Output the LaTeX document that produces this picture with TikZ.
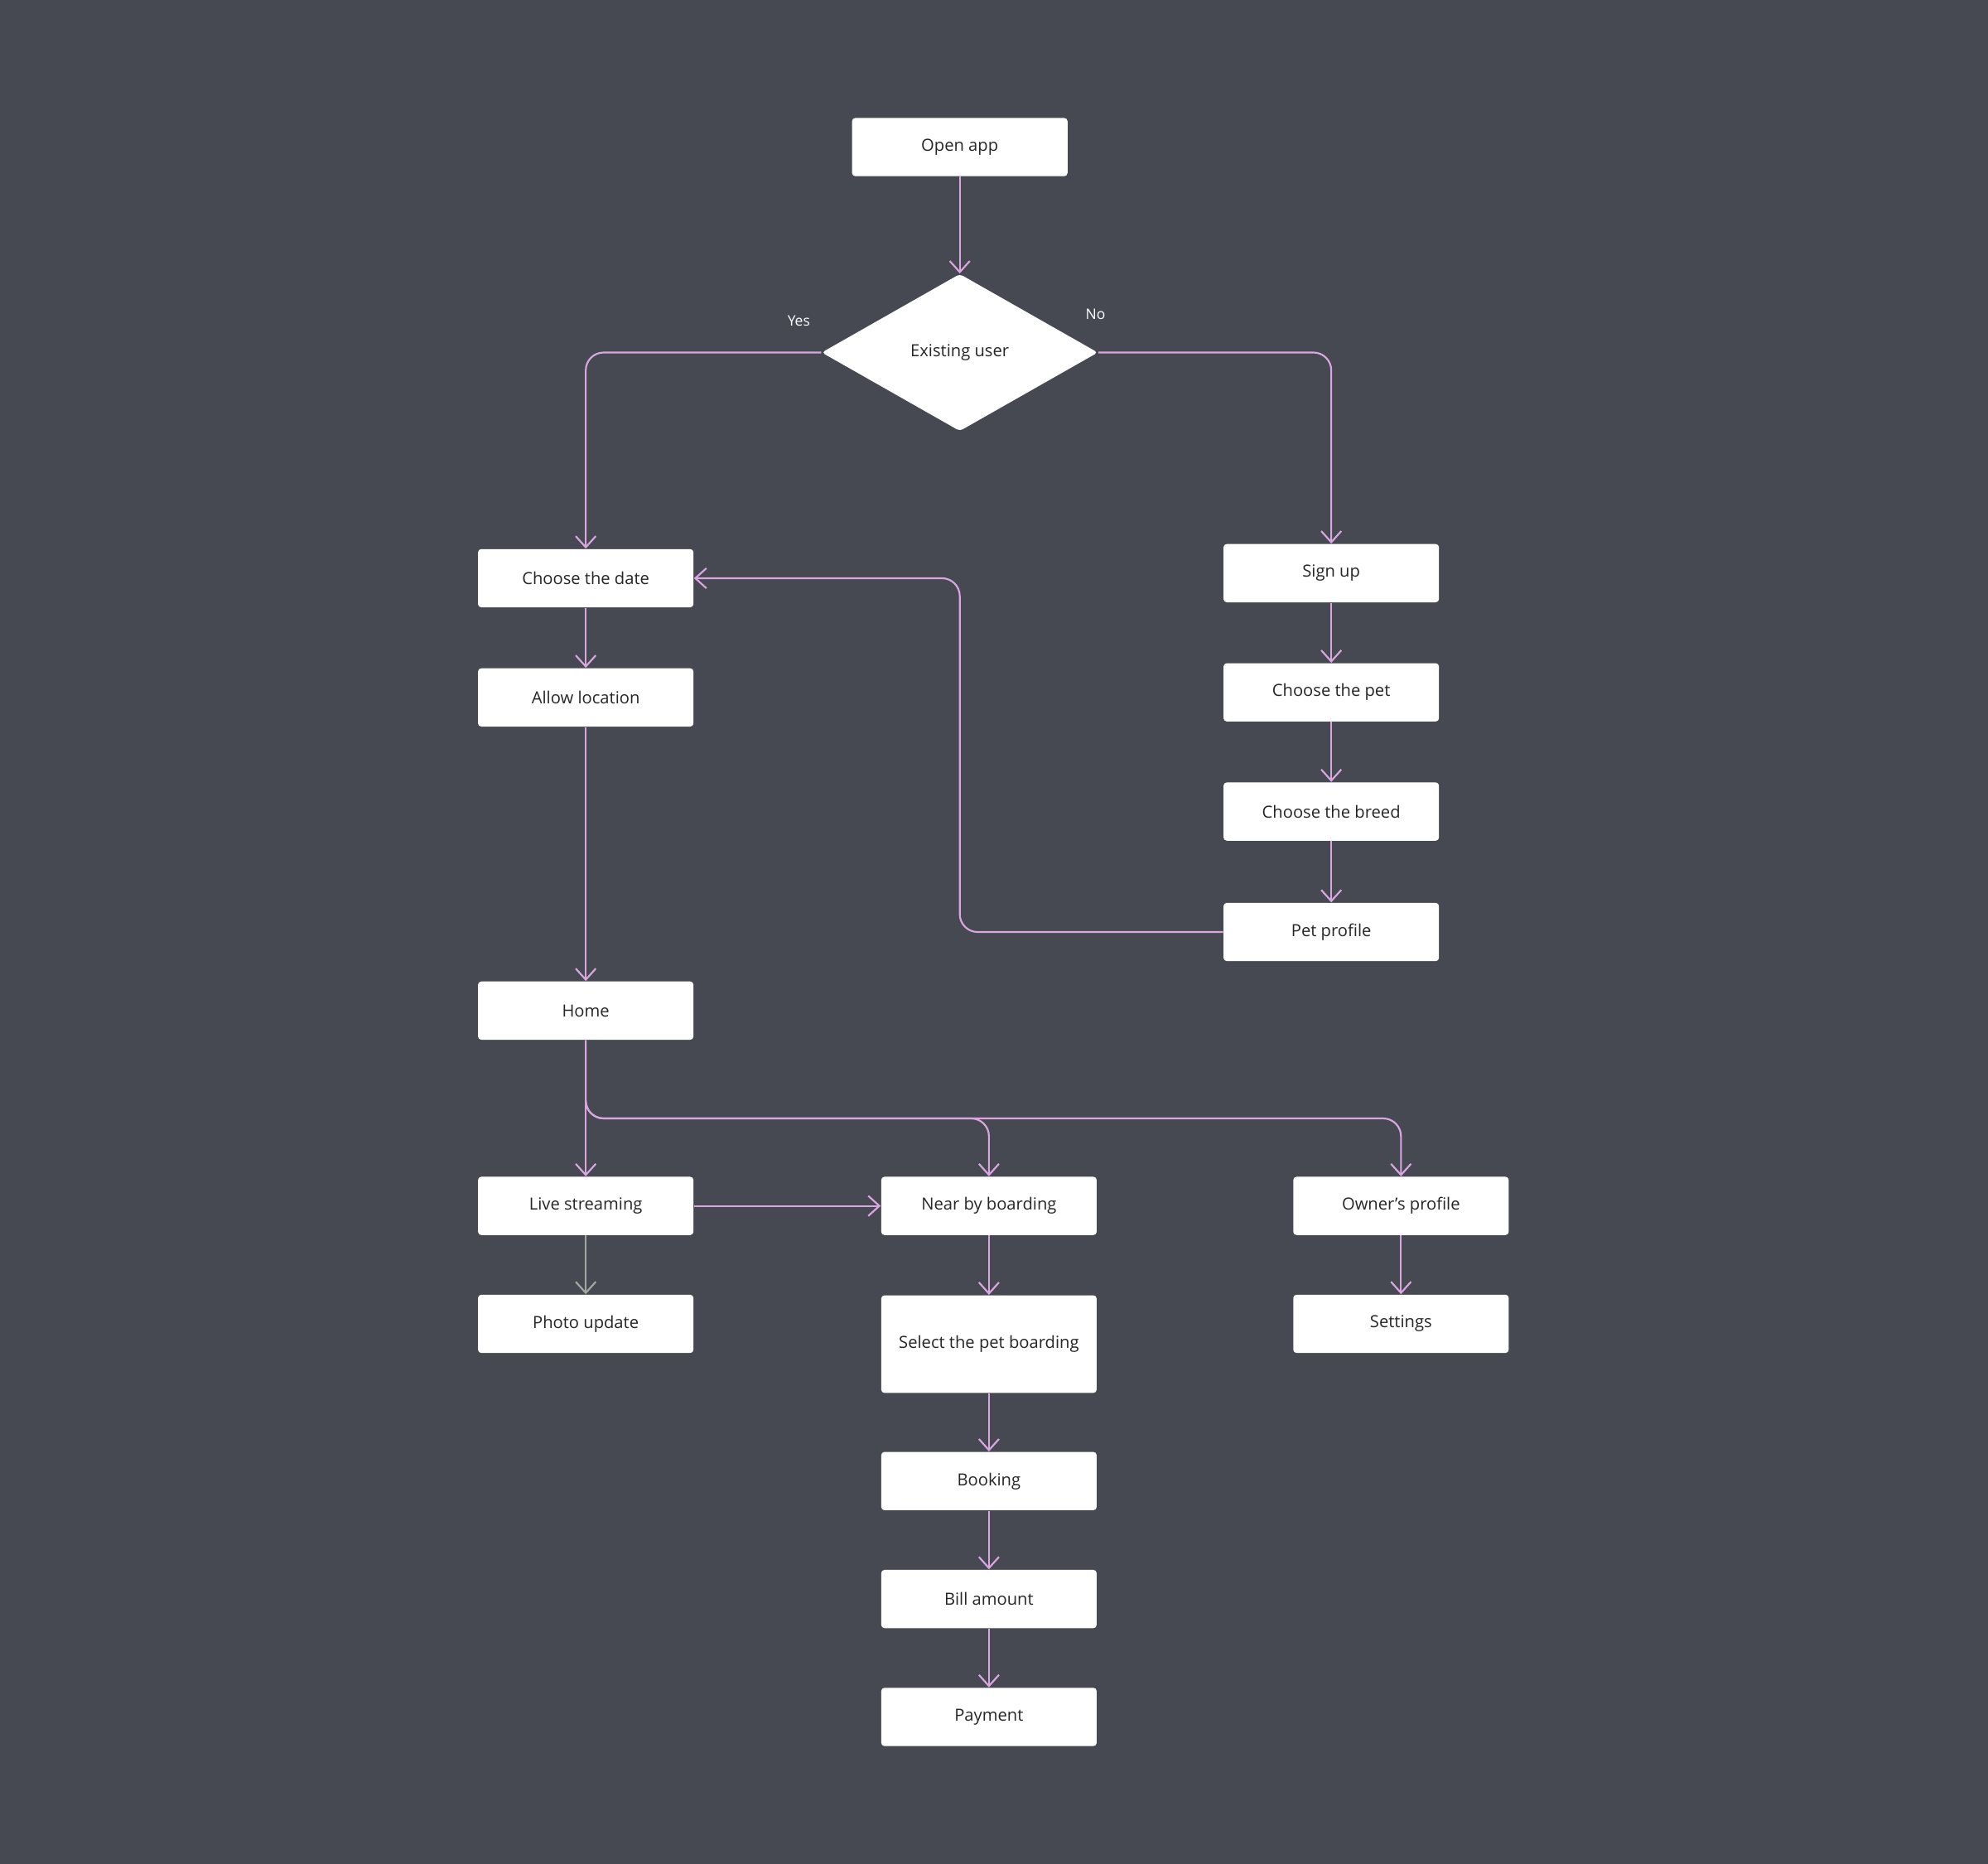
\documentclass[tikz,border=0pt]{standalone}
\usepackage{fontspec}
\setmainfont{Open Sans}
\usetikzlibrary{shapes.geometric}
\usetikzlibrary{positioning}
\usetikzlibrary{arrows.meta}
\definecolor{bgcol}{HTML}{464952}
\definecolor{linkcol}{HTML}{D9A6E0}
\definecolor{greycol}{HTML}{A3A8A0}
\tikzstyle{stepbox} = [rectangle,fill=white,rounded corners=1.5pt,minimum width=3.4cm,minimum height=0.92cm,align=center,font=\fontsize{7.5}{9}\selectfont,text=black!85]
\tikzstyle{decision} = [diamond,fill=white,rounded corners=1.5pt,minimum width=4.36cm,minimum height=2.48cm,inner sep=0pt,aspect=1.76,font=\fontsize{7.5}{9}\selectfont,text=black!85]

\begin{document}
\begin{tikzpicture}[x=0.02cm,y=-0.02cm]
	\fill[bgcol] (0,0) rectangle (1568,1470);
	\useasboundingbox (0,0) rectangle (1568,1470);

	\tikzstyle{link}=[draw=linkcol,line width=0.8pt,-{Straight Barb[length=5pt,width=9pt]},rounded corners=8pt];
	\tikzstyle{tag}=[text=white,font=\fontsize{6.5}{8}\selectfont];

	\node (open) [stepbox] at (757,116) {Open app};
	\node (user) [decision] at (757,278) {Existing user};
	\node (date) [stepbox] at (462,456) {Choose the date};
	\node (loc) [stepbox] at (462,550) {Allow location};
	\node (home) [stepbox] at (462,797) {Home};
	\node (live) [stepbox] at (462,951) {Live streaming};
	\node (photo) [stepbox] at (462,1044) {Photo update};
	\node (sign) [stepbox] at (1050,452) {Sign up};
	\node (pet) [stepbox] at (1050,546) {Choose the pet};
	\node (breed) [stepbox] at (1050,640) {Choose the breed};
	\node (prof) [stepbox] at (1050,735) {Pet profile};
	\node (near) [stepbox] at (780,951) {Near by boarding};
	\node (sel) [stepbox,minimum height=1.54cm] at (780,1060) {Select the pet boarding};
	\node (book) [stepbox] at (780,1168) {Booking};
	\node (bill) [stepbox] at (780,1261) {Bill amount};
	\node (pay) [stepbox] at (780,1354) {Payment};
	\node (owner) [stepbox] at (1105,951) {Owner’s profile};
	\node (sett) [stepbox] at (1105,1044) {Settings};

	\node (yes) [tag] at (630,253) {Yes};
	\node (no) [tag] at (864,248) {No};

	\path[link] (open) -- (user);
	\path[link] (user.west) -| (date.north);
	\path[link] (user.east) -| (sign.north);
	\path[link] (date) -- (loc);
	\path[link] (loc) -- (home);
	\path[link] (sign) -- (pet);
	\path[link] (pet) -- (breed);
	\path[link] (breed) -- (prof);
	\path[link] (prof.west) -| (757,456) -- (date.east);
	\path[link] (home) -- (live);
	\path[link] (home.south) |- (780,882) -- (near.north);
	\path[link] (home.south) |- (1105,882) -- (owner.north);
	\path[link] (live) -- (near);
	\path[link,draw=greycol] (live) -- (photo);
	\path[link] (near) -- (sel);
	\path[link] (sel) -- (book);
	\path[link] (book) -- (bill);
	\path[link] (bill) -- (pay);
	\path[link] (owner) -- (sett);
\end{tikzpicture}
\end{document}
